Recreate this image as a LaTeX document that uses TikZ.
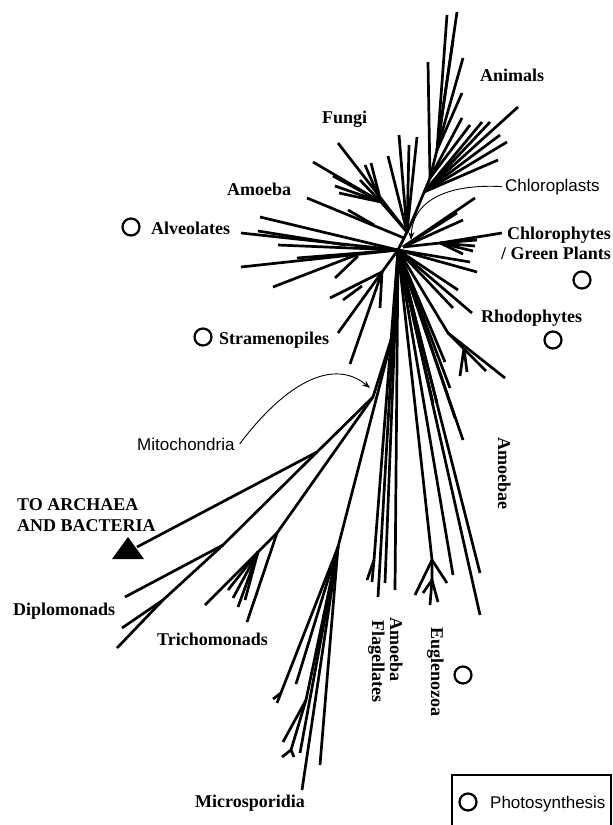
\documentclass[tikz,border=0pt]{standalone}
\usepackage{fontspec}
\setmainfont{Liberation Serif}
\newfontfamily\lsans{Liberation Sans}
\usetikzlibrary{arrows.meta}
\begin{document}
\begin{tikzpicture}[x=1pt,y=-1pt,
  br/.style={line width=2.7pt},
  lab/.style={font=\bfseries\fontsize{18}{20}\selectfont, inner sep=0pt},
  slab/.style={font=\lsans\fontsize{17}{20}\selectfont, inner sep=0pt},
  circ/.style={circle, draw, line width=2.2pt, minimum size=17pt, inner sep=0pt},
  arr/.style={line width=0.9pt, -{Stealth[length=8pt,width=6pt]}}]
\clip (0,0) rectangle (613,825);
% junctions
\coordinate (H) at (398,250);
\coordinate (U) at (410,226);
\coordinate (A0) at (430,178);
\coordinate (A1) at (437,150);
\coordinate (R) at (424,192);
\coordinate (Am) at (404,238);
\coordinate (F0) at (407,232);
\coordinate (F1) at (381,202);
\coordinate (C0) at (403,247);
\coordinate (C1) at (440,243);
\coordinate (S) at (382,272);
\coordinate (P) at (394,330);
\coordinate (M) at (373,397);
\coordinate (D1) at (317,452);
\coordinate (D2) at (223,545);
\coordinate (D3) at (163,600);
\coordinate (T) at (277,533);
\coordinate (T2) at (258,552);
\coordinate (Mi) at (338,547);
\coordinate (Q) at (306,700);
\coordinate (Q2) at (291,750);
\coordinate (E) at (432,560);
\coordinate (E2) at (432,580);
\coordinate (Rh) at (448,333);
\coordinate (Rh2) at (464,348);
\coordinate (Fl) at (374,560);
% animals
\draw[br] (H)--(U)--(A0)--(A1);
\foreach \p in {(447,15),(457,12),(453,40),(463,58),(462,93)} \draw[br] (A1)--\p;
\foreach \p in {(428,62),(462,118),(470,125)} \draw[br] (A0)--\p;
\foreach \p in {(482,122),(490,122),(518,107),(500,135),(507,142),(498,160)} \draw[br] (R)--\p;
% fungi
\draw[br] (F0)--(F1);
\foreach \p in {(313,162),(333,176),(335,186),(339,193),(360,180),(365,165),(371,163)} \draw[br] (F1)--\p;
\foreach \p in {(338,143),(399,135),(388,156),(417,137),(409,145)} \draw[br] (F0)--\p;
% amoeba
\draw[br] (Am)--(307,198);
\draw[br] (374,225)--(348,210);
% alveolates
\foreach \p in {(260,217),(241,233),(278,245),(241,267),(297,258)} \draw[br] (H)--\p;
\draw[br] (345,245)--(258,231);
\draw[br] (356,255)--(273,287);
\draw[br] (358,256)--(335,278);
% stramenopiles
\draw[br] (H)--(S);
\foreach \p in {(330,298),(380,308),(338,333),(350,364)} \draw[br] (S)--\p;
\draw[br] (362,286)--(343,300);
% right side of hub
\foreach \p in {(472,313),(453,308),(458,290),(445,362),(450,388),(433,403),(437,403),(455,418),(463,440),(480,573),(453,575),(480,615),(477,272),(470,262)} \draw[br] (H)--\p;
% chlorophytes
\draw[br] (C0)--(C1);
\foreach \p in {(502,233),(477,240),(475,246),(473,251),(463,254)} \draw[br] (C1)--\p;
\foreach \p in {(475,198),(463,220),(457,213)} \draw[br] (C0)--\p;
% rhodophytes
\draw[br] (H)--(Rh)--(505,378);
\draw[br] (Rh)--(486,371);
\draw[br] (Rh2)--(460,376);
\draw[br] (Rh2)--(467,372);
% euglenozoa
\draw[br] (H)--(E)--(E2);
\foreach \p in {(415,595),(447,583)} \draw[br] (E)--\p;
\foreach \p in {(423,593),(430,605),(438,602)} \draw[br] (E2)--\p;
% amoeba flagellates
\foreach \p in {(378,597),(385,583),(395,590)} \draw[br] (H)--\p;
\draw[br] (H)--(Fl)--(367,580);
\draw[br] (Fl)--(372,582);
% basal part
\draw[br] (H)--(P)--(M)--(D1)--(137,547);
\draw[br] (D1)--(D2)--(D3)--(117,648);
\draw[br] (D2)--(125,597);
\draw[br] (D3)--(122,628);
\draw[br] (M)--(T)--(205,605);
\draw[br] (T)--(247,622);
\foreach \p in {(228,590),(233,598),(238,607),(245,600)} \draw[br] (T2)--\p;
% microsporidia
\draw[br] (P)--(Mi);
\foreach \p in {(277,703),(296,684),(300,753),(302,790),(320,765)} \draw[br] (Mi)--\p;
\draw[br] (Mi)--(Q)--(283,742);
\draw[br] (Q)--(Q2)--(282,757);
\draw[br] (Q2)--(294,757);
\draw[br] (281,693)--(273,699);
% triangle
\fill (128,537)--(112,559)--(144,559)--cycle;
% labels
\node[lab, anchor=base west] (animals) at (480,81) {Animals};
\node[lab, anchor=base west] (fungi) at (322,123) {Fungi};
\node[lab, anchor=base west] (amoeba) at (227,195) {Amoeba};
\node[lab, anchor=base west] (alv) at (151,234) {Alveolates};
\node[lab, anchor=base west] (stram) at (219,344) {Stramenopiles};
\node[lab, anchor=base west] (chlor) at (507,239) {Chlorophytes};
\node[lab, anchor=base west] (green) at (501,259) {/ Green Plants};
\node[lab, anchor=base west] (rhodo) at (481,322) {Rhodophytes};
\node[lab, anchor=base west] (arch) at (17,510) {TO ARCHAEA};
\node[lab, anchor=base west] (bact) at (17,531) {AND BACTERIA};
\node[lab, anchor=base west] (diplo) at (13,615) {Diplomonads};
\node[lab, anchor=base west] (tricho) at (157,645) {Trichomonads};
\node[lab, anchor=base west] (micro) at (195,807) {Microsporidia};
\node[lab, rotate=-90, anchor=base west] (amoebae) at (498,437) {Amoebae};
\node[lab, rotate=-90, anchor=base west] (amfl1) at (390,617) {Amoeba};
\node[lab, rotate=-90, anchor=base west] (amfl2) at (372,620) {Flagellates};
\node[lab, rotate=-90, anchor=base west] (eugl) at (431,627) {Euglenozoa};
\node[slab, anchor=base west] (chl) at (505,191) {Chloroplasts};
\node[slab, anchor=base west] (mito) at (137,450) {Mitochondria};
\node[slab, anchor=base west] (photo) at (490,808) {Photosynthesis};
% photosynthesis circles
\node[circ] (c1) at (131,227) {};
\node[circ] (c2) at (203,337) {};
\node[circ] (c3) at (582,280) {};
\node[circ] (c4) at (553,340) {};
\node[circ] (c5) at (463,675) {};
\node[circ] (c6) at (468,802) {};
% arrows
\draw[arr] ([xshift=-3pt]chl.west) .. controls (455,184) and (413,196) .. (411,240);
\draw[arr] ([xshift=5pt]mito.east) .. controls (280,390) and (330,355) .. (370,388);
% legend box
\draw[line width=2pt] (452,775) rectangle (611,832);
\end{tikzpicture}
\end{document}
